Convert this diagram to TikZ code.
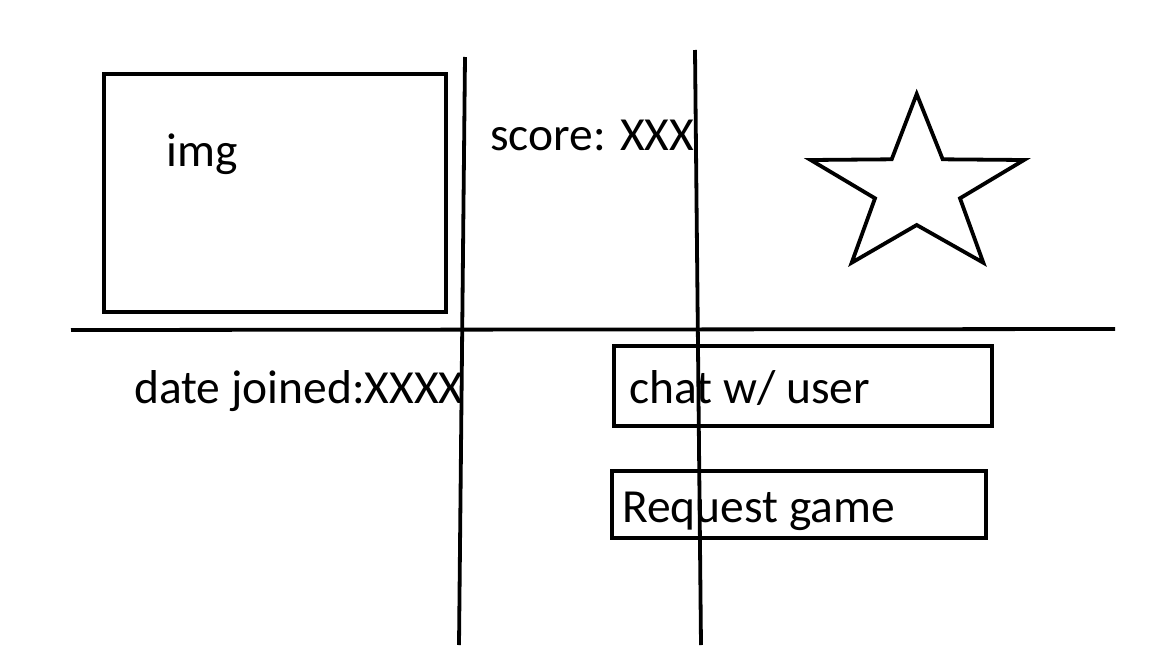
\documentclass[tikz,border=0pt]{standalone}
\usepackage{fontspec}
\setmainfont{Carlito}
\begin{document}
\begin{tikzpicture}[x=1pt,y=-1pt,
  ln/.style={line width=3.8pt,black},
  lbl/.style={anchor=base west,inner sep=0pt,font=\fontsize{47.5}{52}\selectfont}]
\useasboundingbox (0,0) rectangle (1152,648);
% image placeholder
\draw[ln] (104,74) rectangle (446,312);
\node[lbl] (img) at (166,166) {img};
% score
\node[lbl] (score) at (490,150) {score: XXX};
% star
\draw[ln,line join=miter] (916.7,94) -- (942.7,159.3) -- (1024,160) -- (960,198.3) -- (983.3,262.7)
  -- (916.7,225) -- (851.7,262.7) -- (875,198.3) -- (810.7,160) -- (891.7,159.3) -- cycle;
% date
\node[lbl] (date) at (134,403) {date joined:XXXX};
% buttons
\draw[ln] (614,346) rectangle (992,426);
\node[lbl] (chat) at (629,403) {chat w/ user};
\draw[ln] (612,471) rectangle (986,538);
\node[lbl] (req) at (622,522) {Request game};
% grid lines
\coordinate (h1) at (71,330);
\coordinate (h2) at (1115,329);
\coordinate (v1a) at (465,57);
\coordinate (v1b) at (459,645);
\coordinate (v2a) at (695,50);
\coordinate (v2b) at (701,645);
\draw[ln] (h1) -- (h2);
\draw[ln] (v1a) -- (v1b);
\draw[ln] (v2a) -- (v2b);
\end{tikzpicture}
\end{document}
